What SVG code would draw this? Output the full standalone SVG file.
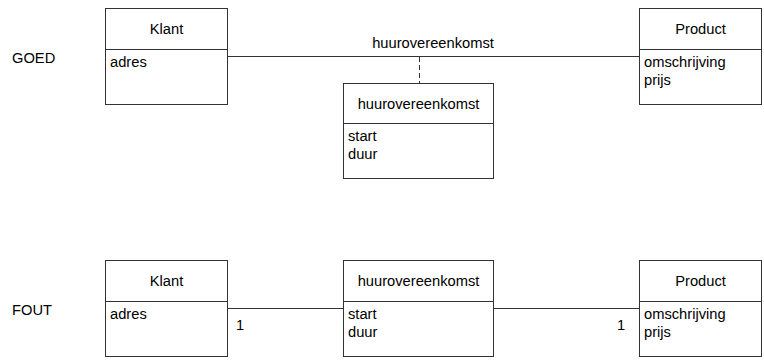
<svg xmlns="http://www.w3.org/2000/svg" width="764" height="361" viewBox="0 0 764 361">
<style>
.box{fill:#fff;stroke:#333;stroke-width:1}
.div{stroke:#333;stroke-width:1}
text{font-family:"Liberation Sans",Arial,sans-serif;font-size:14.7px;fill:#000}
.t{text-anchor:middle}
.conn line{stroke:#333;stroke-width:1}
.dash{stroke-dasharray:5,3}
</style>
<rect width="764" height="361" fill="#fff"/>
<text x="12" y="63">GOED</text>
<text x="12" y="315">FOUT</text>
<g id="connectors" class="conn">
<line x1="227.5" y1="56.5" x2="639.5" y2="56.5"/>
<line class="dash" x1="419.5" y1="57" x2="419.5" y2="83.5"/>
<line x1="227.5" y1="308.5" x2="343.5" y2="308.5"/>
<line x1="493.5" y1="308.5" x2="639.5" y2="308.5"/>
<text class="t" x="433" y="48">huurovereenkomst</text>
<text x="236" y="330">1</text>
<text x="617" y="330">1</text>
</g>
<g id="klant-goed">
<rect class="box" x="105.5" y="8.5" width="122" height="96"/>
<line class="div" x1="105.5" y1="49.5" x2="227.5" y2="49.5"/>
<text class="t" x="166.5" y="34">Klant</text>
<text x="110" y="67">adres</text>
</g>
<g id="product-goed">
<rect class="box" x="639.5" y="8.5" width="122" height="96"/>
<line class="div" x1="639.5" y1="49.5" x2="761.5" y2="49.5"/>
<text class="t" x="700.5" y="34">Product</text>
<text x="644" y="67">omschrijving</text>
<text x="644" y="85">prijs</text>
</g>
<g id="huurovereenkomst-goed">
<rect class="box" x="343.5" y="83.5" width="150" height="95"/>
<line class="div" x1="343.5" y1="123.5" x2="493.5" y2="123.5"/>
<text class="t" x="418.5" y="109">huurovereenkomst</text>
<text x="348" y="141">start</text>
<text x="348" y="159">duur</text>
</g>
<g id="klant-fout">
<rect class="box" x="105.5" y="260.5" width="122" height="96"/>
<line class="div" x1="105.5" y1="301.5" x2="227.5" y2="301.5"/>
<text class="t" x="166.5" y="286">Klant</text>
<text x="110" y="319">adres</text>
</g>
<g id="huurovereenkomst-fout">
<rect class="box" x="343.5" y="260.5" width="150" height="96"/>
<line class="div" x1="343.5" y1="301.5" x2="493.5" y2="301.5"/>
<text class="t" x="418.5" y="286">huurovereenkomst</text>
<text x="348" y="319">start</text>
<text x="348" y="337">duur</text>
</g>
<g id="product-fout">
<rect class="box" x="639.5" y="260.5" width="122" height="96"/>
<line class="div" x1="639.5" y1="301.5" x2="761.5" y2="301.5"/>
<text class="t" x="700.5" y="286">Product</text>
<text x="644" y="319">omschrijving</text>
<text x="644" y="337">prijs</text>
</g>
</svg>
